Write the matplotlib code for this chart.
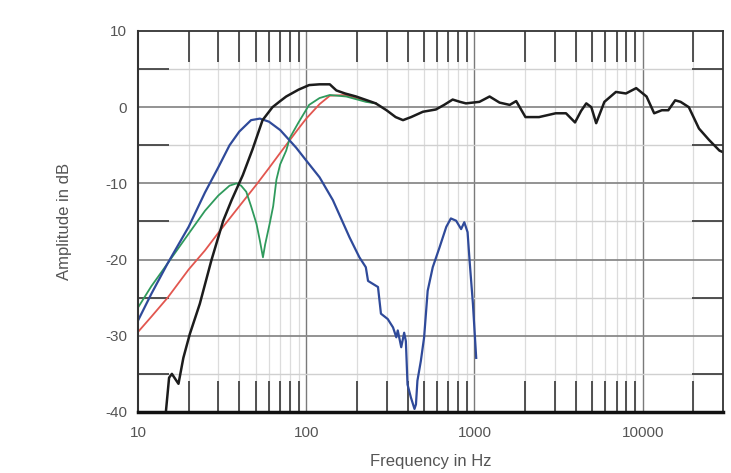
import numpy as np
import matplotlib.pyplot as plt
from matplotlib.ticker import FixedLocator, NullFormatter

plt.rcParams['font.family'] = ['Liberation Sans', 'DejaVu Sans']
plt.rcParams['axes.unicode_minus'] = False

# Colors:
black_c = "#1c1c1c"
blue_c = "#2f4a9a"
green_c = "#2f9a5c"
red_c = "#e2564f"
label_c = "#555555"

# Total response (black)
f_total = [14.5, 15.3, 15.9, 17.4, 18.6, 20.3, 23.3, 27.3, 32.1, 36, 42, 48, 55, 63, 70, 76, 90,
           104, 120, 138, 151, 170, 198, 230, 259, 300, 340, 376, 420, 494, 590, 660, 742, 820,
           890, 1070, 1230, 1410, 1620, 1770, 2010, 2420, 3040, 3500, 3960, 4300, 4620, 4950,
           5290, 5920, 6930, 7950, 9150, 10540, 11700, 13000, 14200, 15600, 16800, 18800,
           21600, 24800, 28600, 30000]
db_total = [-41, -35.5, -35.0, -36.3, -32.9, -29.8, -25.8, -20.1, -14.9, -12.2, -8.9, -5.5, -1.7,
            0.0, 0.8, 1.4, 2.3, 2.9, 3.0, 3.0, 2.2, 1.8, 1.4, 0.9, 0.5, -0.4, -1.3, -1.7, -1.3,
            -0.6, -0.3, 0.3, 1.0, 0.7, 0.5, 0.7, 1.4, 0.6, 0.3, 0.8, -1.3, -1.3, -0.8, -0.8,
            -2.0, -0.5, 0.5, 0.0, -2.1, 0.7, 2.0, 1.8, 2.5, 1.4, -0.8, -0.4, -0.4, 0.9, 0.7,
            0.0, -2.8, -4.3, -5.7, -5.9]

# Subwoofer (blue)
f_sub = [10, 12, 15, 20, 25, 30, 35, 40, 47, 53, 60, 70, 87, 100, 120, 144, 181, 207, 226, 233,
         267, 278, 305, 328, 343, 350, 367, 382, 391, 400, 419, 440, 449, 458, 480, 502, 527,
         565, 620, 680, 724, 778, 833, 870, 910, 935, 979, 1024]
db_sub = [-28, -24.5, -20.5, -15.7, -11.2, -7.9, -5.0, -3.2, -1.7, -1.5, -1.9, -3.0, -5.3,
          -7.0, -9.2, -12.2, -17.1, -19.7, -21.0, -22.8, -23.6, -27.1, -27.8, -28.9, -30.2,
          -29.3, -31.5, -29.6, -30.7, -36.4, -38.1, -39.6, -39.0, -35.9, -33.3, -30.2, -24.1,
          -21.0, -18.4, -15.7, -14.6, -14.9, -16.0, -15.1, -16.4, -20.1, -25.8, -32.9]

# Main speaker (green)
f_main = [10, 12, 15, 20, 25, 30, 35, 38.5, 41, 44, 47, 50.6, 53, 55.3, 57, 60.6, 63.6, 66.5,
          70, 76, 80, 90, 104, 120, 138, 173, 226, 259]
db_main = [-26.3, -23.5, -20.5, -16.6, -13.6, -11.6, -10.3, -10.0, -10.3, -11.1, -13.0, -15.3,
           -17.5, -19.7, -18.0, -15.3, -13.0, -9.5, -7.5, -5.7, -4.0, -2.0, 0.3, 1.2, 1.6, 1.4,
           0.7, 0.5]

# Target curve (red)
f_target = [10, 12, 15, 20, 25, 30, 40, 50, 60, 70, 80, 90, 100, 120, 138, 170, 226, 259]
db_target = [-29.5, -27.5, -25.0, -21.3, -18.8, -16.5, -13.0, -10.3, -8.0, -6.0, -4.3, -2.8,
             -1.5, 0.4, 1.5, 1.6, 0.8, 0.5]

fig = plt.figure(figsize=(7.31, 4.73), dpi=100)
ax = fig.add_axes([0.1888, 0.129, 0.8002, 0.8055])

ax.plot(f_target, db_target, color=red_c, lw=1.3)
ax.plot(f_main, db_main, color=green_c, lw=1.3)
ax.plot(f_sub, db_sub, color=blue_c, lw=1.6)
ax.plot(f_total, db_total, color=black_c, lw=1.8)

ax.set_xscale("log")
ax.set_xlim(10, 30000)
ax.set_ylim(-40, 10)

# Grid
minor_x = [m * d for d in [10, 100, 1000, 10000] for m in range(2, 10) if m * d < 30000]
for x in minor_x:
    ax.axvline(x, color="#dcdcdc", lw=0.9, zorder=0)
for x in [100, 1000, 10000]:
    ax.axvline(x, color="#7a7a7a", lw=1.0, zorder=0)
for y in [5, -5, -15, -25, -35]:
    ax.axhline(y, color="#d0d0d0", lw=1.0, zorder=0)
for y in [0, -10, -20, -30]:
    ax.axhline(y, color="#8a8a8a", lw=1.3, zorder=0)

# Ticks
ax.xaxis.set_major_locator(FixedLocator([10, 100, 1000, 10000]))
ax.xaxis.set_minor_locator(FixedLocator(minor_x))
ax.xaxis.set_minor_formatter(NullFormatter())
ax.set_xticklabels(["10", "100", "1000", "10000"])
ax.tick_params(axis="x", which="major", length=0, labelsize=11, labelcolor=label_c, pad=10)
ax.tick_params(axis="x", which="minor", direction="in", length=22, width=1.3, color="#444444",
               top=True, bottom=True)

ax.yaxis.set_major_locator(FixedLocator([10, 0, -10, -20, -30, -40]))
ax.yaxis.set_minor_locator(FixedLocator([5, -5, -15, -25, -35]))
ax.tick_params(axis="y", which="major", length=0, labelsize=11, labelcolor=label_c, pad=8)
ax.tick_params(axis="y", which="minor", direction="in", length=22, width=1.3, color="#444444",
               left=True, right=True)

for side in ["top", "right"]:
    ax.spines[side].set_linewidth(1.3)
    ax.spines[side].set_color("#333333")
ax.spines["left"].set_linewidth(1.5)
ax.spines["left"].set_color("#333333")
ax.spines["bottom"].set_linewidth(2.5)
ax.spines["bottom"].set_color("#111111")

ax.set_xlabel("Frequency in Hz", fontsize=12, color=label_c, labelpad=10)
ax.set_ylabel("Amplitude in dB", fontsize=12, color=label_c, labelpad=24)

fig.savefig("out.png", dpi=100)
